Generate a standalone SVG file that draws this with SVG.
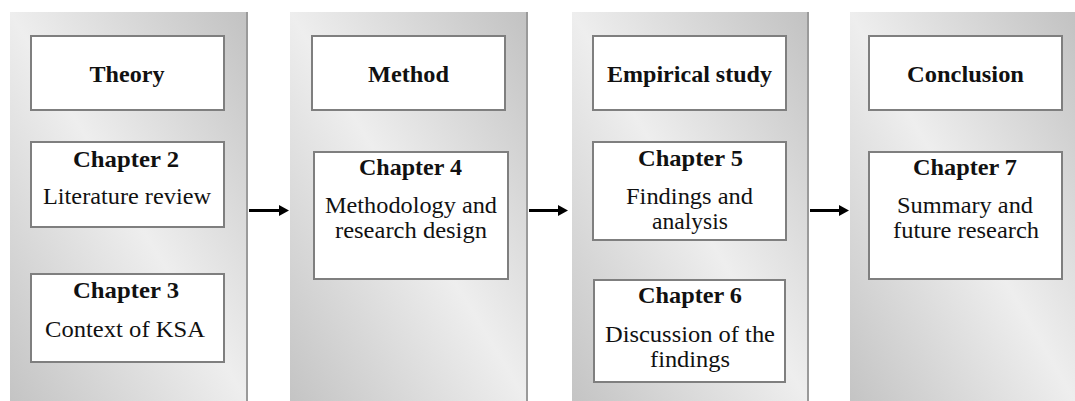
<svg xmlns="http://www.w3.org/2000/svg" width="1075" height="401" viewBox="0 0 1075 401">
<defs>
<linearGradient id="pg" x1="0" y1="1" x2="1" y2="0">
<stop offset="0" stop-color="#c4c4c4"/>
<stop offset="0.5" stop-color="#eeeeee"/>
<stop offset="1" stop-color="#c2c2c2"/>
</linearGradient>
<marker id="ah" markerWidth="10" markerHeight="11" refX="0" refY="5.5" orient="auto" markerUnits="userSpaceOnUse">
<path d="M0,0 L10,5.5 L0,11 Z" fill="#000"/>
</marker>
</defs>
<style>
.panel{fill:url(#pg);}
.edge{stroke:#9a9a9a;stroke-width:2;}
.box{fill:#fff;stroke:#7f7f7f;stroke-width:2;}
.t{font-family:"Liberation Serif","Times New Roman",serif;font-size:22.5px;fill:#111;text-anchor:middle;}
.b{font-weight:bold;}
.conn{stroke:#000;stroke-width:3;fill:none;}
</style>
<rect width="1075" height="401" fill="#fff"/>

<g id="panel-theory">
<rect class="panel" x="10" y="12" width="237" height="389"/>
<line class="edge" x1="247" y1="12" x2="247" y2="401"/>
<g id="node-theory">
<rect class="box" x="31" y="36" width="193" height="74"/>
<text class="t b" x="127" y="82" textLength="75" lengthAdjust="spacingAndGlyphs">Theory</text>
</g>
<g id="node-ch2">
<rect class="box" x="31" y="142" width="193" height="85"/>
<text class="t b" x="126" y="167" textLength="106" lengthAdjust="spacingAndGlyphs">Chapter 2</text>
<text class="t" x="127" y="204" textLength="168" lengthAdjust="spacingAndGlyphs">Literature review</text>
</g>
<g id="node-ch3">
<rect class="box" x="31" y="274" width="193" height="88"/>
<text class="t b" x="126" y="298" textLength="106" lengthAdjust="spacingAndGlyphs">Chapter 3</text>
<text class="t" x="125" y="337" textLength="160" lengthAdjust="spacingAndGlyphs">Context of KSA</text>
</g>
</g>

<g id="panel-method">
<rect class="panel" x="290" y="12" width="237" height="389"/>
<line class="edge" x1="527" y1="12" x2="527" y2="401"/>
<g id="node-method">
<rect class="box" x="312" y="36" width="193" height="74"/>
<text class="t b" x="408.5" y="82" textLength="81" lengthAdjust="spacingAndGlyphs">Method</text>
</g>
<g id="node-ch4">
<rect class="box" x="314" y="152" width="194" height="127"/>
<text class="t b" x="410.5" y="175" textLength="103" lengthAdjust="spacingAndGlyphs">Chapter 4</text>
<text class="t" x="411" y="213" textLength="172" lengthAdjust="spacingAndGlyphs">Methodology and</text>
<text class="t" x="411" y="238" textLength="152" lengthAdjust="spacingAndGlyphs">research design</text>
</g>
</g>

<g id="panel-empirical">
<rect class="panel" x="572" y="12" width="236" height="389"/>
<line class="edge" x1="808" y1="12" x2="808" y2="401"/>
<g id="node-empirical">
<rect class="box" x="593" y="36" width="193" height="74"/>
<text class="t b" x="689.5" y="82" textLength="165" lengthAdjust="spacingAndGlyphs">Empirical study</text>
</g>
<g id="node-ch5">
<rect class="box" x="593" y="142" width="193" height="98"/>
<text class="t b" x="690.5" y="166" textLength="105" lengthAdjust="spacingAndGlyphs">Chapter 5</text>
<text class="t" x="689.5" y="204" textLength="127" lengthAdjust="spacingAndGlyphs">Findings and</text>
<text class="t" x="690" y="229" textLength="76" lengthAdjust="spacingAndGlyphs">analysis</text>
</g>
<g id="node-ch6">
<rect class="box" x="594" y="280" width="191" height="102"/>
<text class="t b" x="690" y="303" textLength="104" lengthAdjust="spacingAndGlyphs">Chapter 6</text>
<text class="t" x="690" y="342" textLength="170" lengthAdjust="spacingAndGlyphs">Discussion of the</text>
<text class="t" x="690" y="367" textLength="80" lengthAdjust="spacingAndGlyphs">findings</text>
</g>
</g>

<g id="panel-conclusion">
<rect class="panel" x="850" y="12" width="225" height="389"/>
<g id="node-conclusion">
<rect class="box" x="869" y="36" width="193" height="74"/>
<text class="t b" x="965.5" y="82" textLength="117" lengthAdjust="spacingAndGlyphs">Conclusion</text>
</g>
<g id="node-ch7">
<rect class="box" x="869" y="152" width="193" height="127"/>
<text class="t b" x="965" y="175" textLength="104" lengthAdjust="spacingAndGlyphs">Chapter 7</text>
<text class="t" x="965" y="213" textLength="136" lengthAdjust="spacingAndGlyphs">Summary and</text>
<text class="t" x="966" y="238" textLength="146" lengthAdjust="spacingAndGlyphs">future research</text>
</g>
</g>

<g id="connectors">
<line class="conn" x1="249" y1="210.5" x2="279" y2="210.5" marker-end="url(#ah)"/>
<line class="conn" x1="529" y1="210.5" x2="558" y2="210.5" marker-end="url(#ah)"/>
<line class="conn" x1="810" y1="210.5" x2="839" y2="210.5" marker-end="url(#ah)"/>
</g>
</svg>
